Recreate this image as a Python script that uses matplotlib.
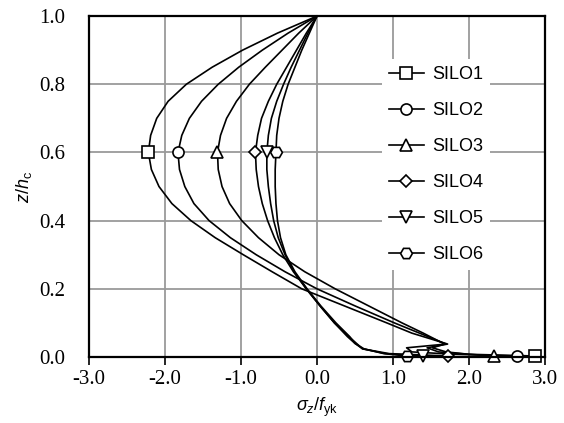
import numpy as np
import matplotlib.pyplot as plt

plt.rcParams['font.family'] = ['Liberation Serif', 'DejaVu Serif']
plt.rcParams['mathtext.fontset'] = 'custom'
plt.rcParams['mathtext.rm'] = 'Liberation Sans'
plt.rcParams['mathtext.it'] = 'Liberation Sans:italic'

# z/hc levels (top to bottom) and sigma_z/f_yk for each silo
z_a = [1.0, 0.95, 0.9, 0.85, 0.8, 0.75, 0.7, 0.65, 0.6, 0.55, 0.5, 0.45, 0.4,
       0.35, 0.3, 0.25, 0.2, 0.15, 0.1, 0.07, 0.038, 0.027, 0.015, 0.008, 0.003]
z_b = [1.0, 0.95, 0.9, 0.85, 0.8, 0.75, 0.7, 0.65, 0.6, 0.55, 0.5, 0.45, 0.4,
       0.35, 0.3, 0.25, 0.2, 0.15, 0.1, 0.06, 0.04, 0.024, 0.01, 0.003]

silo1 = [0.0, -0.52, -0.98, -1.38, -1.72, -1.96, -2.11, -2.19, -2.22, -2.18, -2.08, -1.91, -1.66,
         -1.34, -0.97, -0.59, -0.20, 0.36, 0.92, 1.25, 1.72, 1.45, 1.6, 2.0, 2.87]
silo2 = [0.0, -0.38, -0.72, -1.03, -1.30, -1.52, -1.68, -1.78, -1.83, -1.81, -1.74, -1.62, -1.42,
         -1.14, -0.80, -0.42, 0.0, 0.50, 1.02, 1.35, 1.70, 1.18, 1.25, 1.8, 2.63]
silo3 = [0.0, -0.24, -0.46, -0.68, -0.89, -1.06, -1.19, -1.27, -1.31, -1.30, -1.25, -1.15, -0.99,
         -0.77, -0.50, -0.16, 0.24, 0.68, 1.12, 1.40, 1.68, 1.52, 1.7, 2.0, 2.33]
silo4 = [0.0, -0.14, -0.27, -0.40, -0.53, -0.64, -0.73, -0.78, -0.81, -0.80, -0.77, -0.72, -0.65,
         -0.56, -0.45, -0.31, -0.14, 0.04, 0.23, 0.40, 0.50, 0.60, 0.95, 1.72]
silo5 = [0.0, -0.12, -0.23, -0.34, -0.44, -0.53, -0.60, -0.64, -0.66, -0.66, -0.64, -0.61, -0.57,
         -0.51, -0.42, -0.30, -0.14, 0.04, 0.23, 0.42, 0.52, 0.60, 0.90, 1.39]
silo6 = [0.0, -0.10, -0.20, -0.29, -0.38, -0.45, -0.50, -0.53, -0.54, -0.55, -0.55, -0.54, -0.52,
         -0.48, -0.41, -0.29, -0.13, 0.05, 0.25, 0.43, 0.50, 0.62, 0.88, 1.18]

labels = ['SILO1', 'SILO2', 'SILO3', 'SILO4', 'SILO5', 'SILO6']
series = [(z_a, silo1), (z_a, silo2), (z_a, silo3), (z_b, silo4), (z_b, silo5), (z_b, silo6)]
markers = ['s', 'o', '^', 'D', 'v', 'H']
msizes = [8, 8, 8, 6.5, 8, 8.5]

fig = plt.figure(figsize=(5.64, 4.23), dpi=100)
ax = fig.add_axes([0.158, 0.156, 0.808, 0.806])

for (z, s), lab, m, ms in zip(series, labels, markers, msizes):
    idx = [z.index(0.6), len(z) - 1]
    ax.plot(s, z, color='black', lw=1.2, marker=m, markevery=idx, ms=ms,
            mfc='white', mec='black', mew=1.2, label=lab, clip_on=False, zorder=3)

xt = np.arange(-3, 3.1, 1)
yt = np.arange(0, 1.01, 0.2)
ax.set_xlim(-3, 3)
ax.set_ylim(0, 1)
ax.set_xticks(xt)
ax.set_yticks(yt)
ax.set_xticklabels(['%.1f' % v for v in xt])
ax.set_yticklabels(['%.1f' % v for v in yt])
ax.grid(True, color='#9a9a9a', lw=1.3)
ax.set_axisbelow(True)
for sp in ax.spines.values():
    sp.set_linewidth(1.6)
    sp.set_zorder(4)

ax.tick_params(axis='x', direction='out', length=6, width=1.2, pad=3, labelsize=15)
ax.tick_params(axis='y', length=0, pad=17, labelsize=15)

ax.set_xlabel(r'$\sigma_z/f_{\mathrm{yk}}$', fontsize=13, labelpad=5)
ax.set_ylabel(r'$z/h_{\mathrm{c}}$', fontsize=13, labelpad=4)

leg = ax.legend(loc='upper left', bbox_to_anchor=(0.622, 0.90), frameon=True,
                facecolor='white', edgecolor='none', framealpha=1, fancybox=False,
                prop={'family': 'Liberation Sans', 'size': 13},
                handlelength=1.95, handletextpad=0.45, labelspacing=1.05, borderpad=0.4)
leg.set_zorder(5)

fig.savefig('out.png', dpi=100)
